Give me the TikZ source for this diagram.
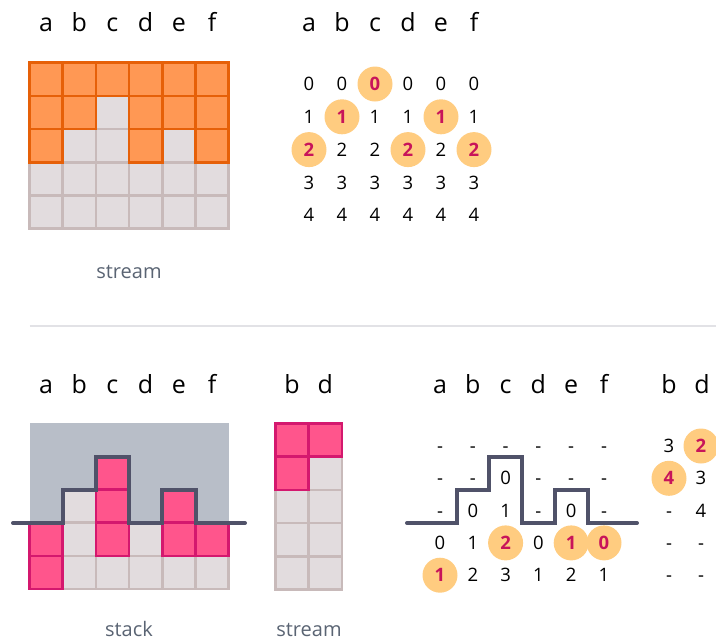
\documentclass[tikz,border=0pt]{standalone}
\usepackage{fontspec}
\setmainfont{Open Sans}
\definecolor{cellgray}{RGB}{226,220,222}
\definecolor{cellline}{RGB}{200,186,186}
\definecolor{orangefill}{RGB}{255,152,84}
\definecolor{orangeline}{RGB}{230,96,8}
\definecolor{pinkfill}{RGB}{255,85,140}
\definecolor{pinkline}{RGB}{212,24,110}
\definecolor{skyback}{RGB}{184,190,200}
\definecolor{profileline}{RGB}{80,82,105}
\definecolor{hilite}{RGB}{255,204,128}
\definecolor{hinum}{RGB}{200,20,90}
\definecolor{captiongray}{RGB}{90,100,115}
\definecolor{sepgray}{RGB}{226,226,230}
\begin{document}
\begin{tikzpicture}[x=1pt, y=-1pt,
    emptycell/.style={draw=cellline, fill=cellgray, line width=2.6pt},
    orangecell/.style={draw=orangeline, fill=orangefill, line width=2.6pt},
    pinkcell/.style={draw=pinkline, fill=pinkfill, line width=2.6pt},
    profile/.style={draw=profileline, line width=4pt, line cap=round},
    colname/.style={anchor=base, inner sep=0pt, font=\fontsize{25}{25}\selectfont},
    num/.style={inner sep=0pt, text height=13.2pt, text depth=0pt, font=\fontsize{18.5}{18.5}\selectfont},
    hi/.style={num, circle, fill=hilite, minimum size=35pt, text=hinum, font=\bfseries\fontsize{18.5}{18.5}\selectfont},
    caption/.style={anchor=base, inner sep=0pt, text=captiongray, font=\fontsize{20}{20}\selectfont}]
  \def\cs{33.2}
  % Bildbereich
  \useasboundingbox (0,0) rectangle (716,641);

  %%% oben: stream
  % Spaltennamen
  \foreach \l [count=\i from 0] in {a,b,c,d,e,f} {
    \node[colname] (top-\l) at ({46+\i*\cs},31) {\l};
    \node[colname] (toptab-\l) at ({309+\i*33},31) {\l};
  }
  % Gitter
  \foreach \i in {0,...,5} \foreach \j in {0,...,4}
    \draw[emptycell] ({29.5+\i*\cs},{62.7+\j*\cs}) rectangle ++(\cs,\cs);
  \foreach \i/\j in {0/0,1/0,2/0,3/0,4/0,5/0, 0/1,1/1,3/1,4/1,5/1, 0/2,3/2,5/2}
    \draw[orangecell] ({29.5+\i*\cs},{62.7+\j*\cs}) rectangle ++(\cs,\cs);
  \node[caption] (top-caption) at (129,278) {stream};
  % Tabelle
  \foreach \rowlist [count=\j from 0] in {{0/0,0/0,0/1,0/0,0/0,0/0},
      {1/0,1/1,1/0,1/0,1/1,1/0}, {2/1,2/0,2/0,2/1,2/0,2/1},
      {3/0,3/0,3/0,3/0,3/0,3/0}, {4/0,4/0,4/0,4/0,4/0,4/0}} {
    \foreach \v/\h [count=\i from 0] in \rowlist {
      \ifnum\h=1 \node[hi] (st-\i-\j) at ({309+\i*33},{84+\j*32.8}) {\v};
      \else \node[num] (st-\i-\j) at ({309+\i*33},{84+\j*32.8}) {\v}; \fi
    }
  }

  % Trennlinie
  \draw[sepgray, line width=2pt] (29.5,326) -- (716,326);

  %%% unten: stack und stream
  \foreach \l [count=\i from 0] in {a,b,c,d,e,f} {
    \node[colname] (bot-\l) at ({46+\i*\cs},393) {\l};
    \node[colname] (bottab-\l) at ({440+\i*32.8},393) {\l};
  }
  \foreach \l [count=\i from 0] in {b,d} {
    \node[colname] (bd-\l) at ({292+\i*\cs},393) {\l};
    \node[colname] (bdtab-\l) at ({669+\i*33},393) {\l};
  }
  % stack
  \fill[skyback] (29.5,423) rectangle (228.7,523);
  \foreach \i/\j in {1/2,1/3,1/4,2/4,3/3,3/4,4/4,5/4}
    \draw[emptycell] ({29.5+\i*\cs},{423+\j*\cs}) rectangle ++(\cs,\cs);
  \foreach \i/\j in {0/3,0/4,2/1,2/2,2/3,4/2,4/3,5/3}
    \draw[pinkcell] ({29.5+\i*\cs},{423+\j*\cs}) rectangle ++(\cs,\cs);
  \draw[profile] (13,523) -- (62.7,523) -- (62.7,489.8) -- (95.9,489.8)
    -- (95.9,456.6) -- (129.1,456.6) -- (129.1,523) -- (162.3,523)
    -- (162.3,489.8) -- (195.5,489.8) -- (195.5,523) -- (245,523);
  \node[caption] (stack-caption) at (129,636) {stack};
  % stream b, d
  \foreach \i in {0,1} \foreach \j in {0,...,4}
    \draw[emptycell] ({275.5+\i*\cs},{423.5+\j*\cs}) rectangle ++(\cs,\cs);
  \foreach \i/\j in {0/0,1/0,0/1}
    \draw[pinkcell] ({275.5+\i*\cs},{423.5+\j*\cs}) rectangle ++(\cs,\cs);
  \node[caption] (bd-caption) at (309,636) {stream};

  % Tabelle stack
  \draw[profile] (407,523) -- (456.5,523) -- (456.5,490) -- (489,490)
    -- (489,457) -- (522,457) -- (522,523) -- (554.5,523) -- (554.5,490)
    -- (587.5,490) -- (587.5,523) -- (637,523);
  \foreach \rowlist [count=\j from 0] in {{-/0,-/0,-/0,-/0,-/0,-/0},
      {-/0,-/0,0/0,-/0,-/0,-/0}, {-/0,0/0,1/0,-/0,0/0,-/0},
      {0/0,1/0,2/1,0/0,1/1,0/1}, {1/1,2/0,3/0,1/0,2/0,1/0}} {
    \foreach \v/\h [count=\i from 0] in \rowlist {
      \ifnum\h=1 \node[hi] (sk-\i-\j) at ({440+\i*32.8},{446+\j*32.3}) {\v};
      \else \node[num] (sk-\i-\j) at ({440+\i*32.8},{446+\j*32.3}) {\v}; \fi
    }
  }
  % Tabelle stream b, d
  \foreach \rowlist [count=\j from 0] in {{3/0,2/1}, {4/1,3/0}, {-/0,4/0},
      {-/0,-/0}, {-/0,-/0}} {
    \foreach \v/\h [count=\i from 0] in \rowlist {
      \ifnum\h=1 \node[hi] (bs-\i-\j) at ({669+\i*32},{446+\j*32.3}) {\v};
      \else \node[num] (bs-\i-\j) at ({669+\i*32},{446+\j*32.3}) {\v}; \fi
    }
  }
\end{tikzpicture}
\end{document}
